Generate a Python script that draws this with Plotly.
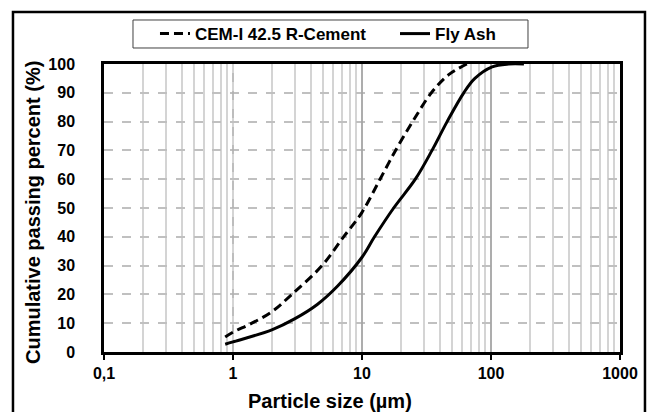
import plotly.graph_objects as go

# ---- data ----
cement_size = [0.87, 1.0, 1.4, 2.0, 2.86, 4.9, 7.2, 10.0, 13.8, 18.2, 24.7, 34.5, 47.0, 65.0]
cement_pass = [5.2, 6.9, 10.0, 14.0, 20.0, 30.0, 40.0, 48.5, 60.0, 70.0, 80.0, 90.0, 96.3, 100.0]

flyash_size = [0.87, 1.0, 2.0, 3.0, 4.5, 6.5, 10.0, 12.5, 17.6, 25.9, 34.9, 45.7, 61.5, 75.0, 102.0, 137.0, 180.0]
flyash_pass = [2.7, 3.5, 7.7, 11.5, 16.5, 23.0, 32.9, 40.0, 50.0, 60.0, 70.0, 80.0, 90.0, 95.0, 99.0, 100.0, 100.0]

x_tickvals = [0.1, 1, 10, 100, 1000]
x_ticktext = ["0,1", "1", "10", "100", "1000"]
y_tickvals = [0, 10, 20, 30, 40, 50, 60, 70, 80, 90, 100]

series_names = ["CEM-I 42.5 R-Cement", "Fly Ash"]
x_title = "Particle size (µm)"
y_title = "Cumulative passing percent (%)"

FONT = "Liberation Sans, Arial, sans-serif"

fig = go.Figure()

# decade grid lines (x=1 dashed, 10 & 100 solid darker)
for xv, dash, col in [(1, "dash", "#a6a6a6"), (10, "solid", "#a0a0a0"), (100, "solid", "#a0a0a0")]:
    fig.add_trace(go.Scatter(x=[xv, xv], y=[0, 100], mode="lines",
                             line=dict(color=col, width=1.5 if dash == "solid" else 1, dash=dash),
                             showlegend=False, hoverinfo="skip"))

fig.add_trace(go.Scatter(x=cement_size, y=cement_pass, mode="lines", name=series_names[0],
                         legend="legend",
                         line=dict(color="black", width=3, dash="9px,5px", shape="spline", smoothing=1.0)))
fig.add_trace(go.Scatter(x=flyash_size, y=flyash_pass, mode="lines", name=series_names[1],
                         legend="legend2",
                         line=dict(color="black", width=3, shape="spline", smoothing=1.0)))

legend_font = dict(family=FONT, size=17, weight="bold", color="black")

fig.update_layout(
    width=651, height=412,
    margin=dict(l=104, r=31, t=64, b=60),
    paper_bgcolor="white", plot_bgcolor="white",
    font=dict(family=FONT, color="black"),
    showlegend=True,
    legend=dict(x=0.0988, xanchor="left", y=1.104, yanchor="middle",
                borderwidth=0, bgcolor="rgba(0,0,0,0)", font=legend_font, itemwidth=30),
    legend2=dict(x=0.564, xanchor="left", y=1.104, yanchor="middle",
                 borderwidth=0, bgcolor="rgba(0,0,0,0)", font=legend_font, itemwidth=30),
    xaxis=dict(type="log", range=[-1, 3],
               tickvals=x_tickvals, ticktext=x_ticktext,
               tickfont=dict(family=FONT, size=16, weight="bold", color="black"),
               ticks="outside", ticklen=5, tickcolor="black", tickwidth=1.5,
               ticklabelstandoff=0,
               showgrid=False,
               minor=dict(dtick="D1", showgrid=True, gridcolor="#d4d4d4", gridwidth=1.5, ticks=""),
               showline=True, linecolor="black", linewidth=2.5, mirror=True,
               zeroline=False),
    yaxis=dict(range=[0, 100], tickvals=y_tickvals,
               tickfont=dict(family=FONT, size=16, weight="bold", color="black"),
               ticks="", ticklabelstandoff=23,
               showgrid=True, gridcolor="#c0c0c0", gridwidth=1.5, griddash="dash",
               showline=True, linecolor="black", linewidth=2.5, mirror=True,
               zeroline=False),
    annotations=[
        dict(text=x_title, xref="paper", yref="paper", x=0.438, y=-0.170,
             xanchor="center", yanchor="middle", showarrow=False,
             font=dict(family=FONT, size=20, weight="bold", color="black")),
        dict(text=y_title, xref="paper", yref="paper", x=-0.1376, y=0.486,
             xanchor="center", yanchor="middle", showarrow=False, textangle=-90,
             font=dict(family=FONT, size=20, weight="bold", color="black")),
    ],
    shapes=[
        dict(type="rect", xref="paper", yref="paper",
             x0=-0.1764, x1=1.0484, y0=-0.25, y1=1.1806,
             line=dict(color="black", width=2.5), fillcolor="rgba(0,0,0,0)", layer="below"),
        dict(type="rect", xref="paper", yref="paper",
             x0=0.0562, x1=0.8217, y0=1.0556, y1=1.1528,
             line=dict(color="#404040", width=1), fillcolor="rgba(0,0,0,0)", layer="below"),
    ],
)

fig.write_html("out.html")
